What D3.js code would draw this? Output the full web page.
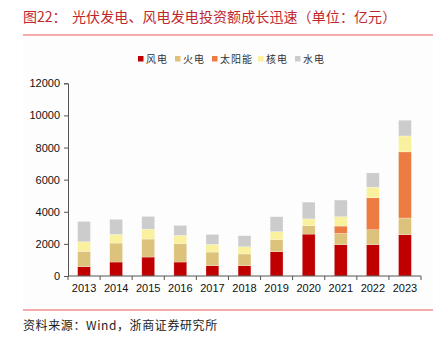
<!DOCTYPE html>
<html><head><meta charset="utf-8">
<script src="https://cdn.jsdelivr.net/npm/d3@7"></script>
<style>body{margin:0;background:#fff;}svg{display:block;}</style>
</head><body>
<svg id="c" width="443" height="345"></svg>
<script>
const years = ["2013","2014","2015","2016","2017","2018","2019","2020","2021","2022","2023"];
const seriesNames = ["风电","火电","太阳能","核电","水电"];
const seriesColors = ["#C00000","#DCC27A","#EC7C41","#F9F19E","#CCCCCC"];
const wind    = [580, 870,1180, 870, 640, 640,1510,2610,1950,1950,2570];
const thermal = [960,1180,1120,1140, 850, 730, 750, 520, 700, 930,1040];
const solar   = [  0,   0,   0,   0,   0,   0,   0,   0, 460,1990,4120];
const nuclear = [590, 540, 620, 520, 480, 450, 500, 430, 580, 660, 990];
const hydro   = [1270,940, 790, 620, 620, 690, 930,1040,1040, 890, 980];
const yTicks = [0,2000,4000,6000,8000,10000,12000];

const svg = d3.select("#c");
svg.append("rect").attr("x",23).attr("y",36).attr("width",410).attr("height",270).attr("fill","#FDFDFD");
svg.append("text").attr("x",23).attr("y",22).attr("fill","#C0272D")
  .attr("font-family","Noto Sans CJK SC").attr("font-size",14).text("图22：");
svg.append("text").attr("x",72).attr("y",22).attr("fill","#C0272D")
  .attr("font-family","Noto Sans CJK SC").attr("font-size",14).attr("letter-spacing",0.1)
  .text("光伏发电、风电发电投资额成长迅速（单位：亿元）");
svg.append("line").attr("x1",23).attr("x2",433).attr("y1",35).attr("y2",35).attr("stroke","#E8595A").attr("stroke-width",1);
svg.append("line").attr("x1",23).attr("x2",433).attr("y1",310).attr("y2",310).attr("stroke","#E8595A").attr("stroke-width",1);
svg.append("text").attr("x",23).attr("y",330).attr("fill","#222")
  .attr("font-family","Noto Sans CJK SC").attr("font-size",12).attr("letter-spacing",0.6)
  .text("资料来源：Wind，浙商证券研究所");

const table = years.map((y,i)=>({year:y,"风电":wind[i],"火电":thermal[i],"太阳能":solar[i],"核电":nuclear[i],"水电":hydro[i]}));
const stack = d3.stack().keys(seriesNames)(table);

const x = d3.scaleBand().domain(years).range([68,421]).paddingInner(0.6).paddingOuter(0.3);
const y = d3.scaleLinear().domain([0,12000]).range([276,83.3]);

const g = svg.append("g");
stack.forEach((s,k)=>{
  g.selectAll(null).data(s.filter(d=>d[1]-d[0]>0)).enter().append("rect")
   .attr("x",d=>x(d.data.year)).attr("width",x.bandwidth())
   .attr("y",d=>y(d[1])).attr("height",d=>y(d[0])-y(d[1]))
   .attr("fill",seriesColors[k]).attr("stroke","rgba(255,255,255,0.5)").attr("stroke-width",0.5);
});

const yAxis = svg.append("g").attr("transform","translate(68,0)")
  .call(d3.axisLeft(y).tickValues(yTicks).tickSize(4).tickPadding(4).tickFormat(d3.format("d")));
const xAxis = svg.append("g").attr("transform","translate(0,276)")
  .call(d3.axisBottom(x).tickSize(0).tickPadding(8));
xAxis.select(".domain").attr("d","M68,0H421");
const bounds = years.map(yy=>x(yy)-x.step()*x.paddingInner()/2);
bounds.push(x(years[years.length-1])+x.bandwidth()+x.step()*x.paddingInner()/2);
xAxis.selectAll(".bt").data(bounds).enter().append("line")
  .attr("x1",d=>d).attr("x2",d=>d).attr("y1",0).attr("y2",4).attr("stroke","#555");
[yAxis,xAxis].forEach(a=>{
  a.selectAll("text").attr("font-family","Liberation Sans, Arial").attr("font-size",11).attr("fill","#111");
  a.selectAll(".domain, .tick line").attr("stroke","#555");
});

const lx = [138,175,212,258,295];
const leg = svg.append("g");
seriesNames.forEach((n,i)=>{
  leg.append("rect").attr("x",lx[i]).attr("y",56).attr("width",5.5).attr("height",5.5).attr("fill",seriesColors[i]);
  leg.append("text").attr("x",lx[i]+8).attr("y",62.5).attr("font-family","Noto Sans CJK SC").attr("font-size",10)
    .attr("letter-spacing",1).attr("fill","#333").text(n);
});
</script>
</body></html>
